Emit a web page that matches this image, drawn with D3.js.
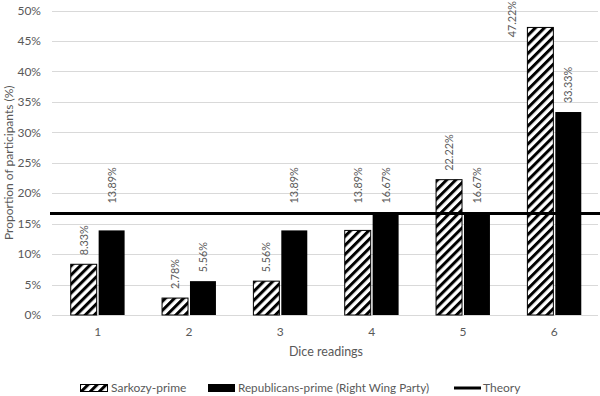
<!DOCTYPE html>
<html>
<head>
<meta charset="utf-8">
<script src="https://cdn.jsdelivr.net/npm/d3@7"></script>
<style>
  body { margin: 0; background: #fff; }
  text { font-family: Lato, "Open Sans", sans-serif; fill: #595959; }
</style>
</head>
<body>
<svg id="chart" width="600" height="396"></svg>
<script>
// dice faces and the two primed groups (percent of participants)
const readings = ["1", "2", "3", "4", "5", "6"];
const seriesNames = ["Sarkozy-prime", "Republicans-prime (Right Wing Party)"];
const sarkozy = [8.33, 2.78, 5.56, 13.89, 22.22, 47.22];
const republicans = [13.89, 5.56, 13.89, 16.67, 16.67, 33.33];
const theory = 16.67;
const yTicks = [0, 5, 10, 15, 20, 25, 30, 35, 40, 45, 50];

const svg = d3.select("#chart");
const plot = {left: 52, right: 600, top: 10.5, bottom: 315};

const x = d3.scaleBand()
  .domain(readings)
  .range([plot.left, plot.right])
  .paddingInner(0.41)
  .paddingOuter(0.205);

const xInner = d3.scaleBand()
  .domain(seriesNames)
  .range([0, x.bandwidth()])
  .paddingInner(0.07);

const y = d3.scaleLinear()
  .domain([0, 50])
  .range([plot.bottom, plot.top]);

// hatch pattern for Sarkozy bars
const defs = svg.append("defs");
const pat = defs.append("pattern")
  .attr("id", "hatch")
  .attr("patternUnits", "userSpaceOnUse")
  .attr("width", 6.4)
  .attr("height", 6.4)
  .attr("patternTransform", "rotate(45)");
pat.append("rect").attr("width", 6.4).attr("height", 6.4).attr("fill", "#fff");
pat.append("rect").attr("width", 3).attr("height", 6.4).attr("fill", "#000");

// gridlines
svg.append("g")
  .selectAll("line")
  .data(yTicks)
  .join("line")
  .attr("x1", plot.left)
  .attr("x2", 598)
  .attr("y1", d => Math.round(y(d)) + 0.5)
  .attr("y2", d => Math.round(y(d)) + 0.5)
  .attr("stroke", "#d9d9d9")
  .attr("stroke-width", 1);

// y axis labels
svg.append("g")
  .selectAll("text")
  .data(yTicks)
  .join("text")
  .attr("x", 41)
  .attr("y", d => y(d))
  .attr("dy", "0.35em")
  .attr("text-anchor", "end")
  .attr("font-size", 12)
  .text(d => d + "%");

// x axis labels
svg.append("g")
  .selectAll("text")
  .data(readings)
  .join("text")
  .attr("x", d => x(d) + x.bandwidth() / 2)
  .attr("y", 336)
  .attr("text-anchor", "middle")
  .attr("font-size", 12)
  .text(d => d);

// bars
const rows = readings.map((r, i) => [
  {r, s: seriesNames[0], v: sarkozy[i]},
  {r, s: seriesNames[1], v: republicans[i]},
]).flat();

svg.append("g")
  .selectAll("rect")
  .data(rows)
  .join("rect")
  .attr("x", d => x(d.r) + xInner(d.s))
  .attr("y", d => y(d.v))
  .attr("width", xInner.bandwidth())
  .attr("height", d => y(0) - y(d.v))
  .attr("fill", d => d.s === seriesNames[0] ? "url(#hatch)" : "#000")
  .attr("stroke", "#000")
  .attr("stroke-width", d => d.s === seriesNames[0] ? 1 : 0);

// theory line
const yT = y(theory);
svg.append("line")
  .attr("x1", 50)
  .attr("x2", 600)
  .attr("y1", yT)
  .attr("y2", yT)
  .attr("stroke", "#000")
  .attr("stroke-width", 3);

// value labels, rotated; nudged clear of the theory line and the top edge
const labels = svg.append("g")
  .selectAll("text")
  .data(rows)
  .join("text")
  .attr("font-size", 10.8)
  .text(d => d.v.toFixed(2) + "%");

labels.each(function(d) {
  const len = this.getComputedTextLength();
  let cx = x(d.r) + xInner(d.s) + xInner.bandwidth() / 2;
  let bottom = y(d.v) - 9;
  if (bottom > yT - 12 && bottom - len < yT + 3) bottom = yT - 10;
  if (bottom - len < 0) {
    bottom = len + 1;
    cx -= xInner.step();
  }
  d3.select(this)
    .attr("transform", `translate(${cx + 4},${bottom}) rotate(-90)`);
});

// axis titles
svg.append("text")
  .attr("x", (plot.left + plot.right) / 2)
  .attr("y", 356)
  .attr("text-anchor", "middle")
  .attr("font-size", 12.5)
  .text("Dice readings");

svg.append("text")
  .attr("transform", `translate(13,${(plot.top + plot.bottom) / 2}) rotate(-90)`)
  .attr("text-anchor", "middle")
  .attr("font-size", 12)
  .text("Proportion of participants (%)");

// legend
const lg = svg.append("g");
lg.append("rect").attr("x", 80.5).attr("y", 384.5).attr("width", 27).attr("height", 7)
  .attr("fill", "url(#hatch)").attr("stroke", "#000");
lg.append("text").attr("x", 111).attr("y", 392).attr("font-size", 12).text(seriesNames[0]);
lg.append("rect").attr("x", 208).attr("y", 384).attr("width", 27).attr("height", 8).attr("fill", "#000");
lg.append("text").attr("x", 238).attr("y", 392).attr("font-size", 11.7).text(seriesNames[1]);
lg.append("line").attr("x1", 454).attr("x2", 481).attr("y1", 388).attr("y2", 388)
  .attr("stroke", "#000").attr("stroke-width", 3);
lg.append("text").attr("x", 483).attr("y", 392).attr("font-size", 12).text("Theory");
</script>
</body>
</html>
